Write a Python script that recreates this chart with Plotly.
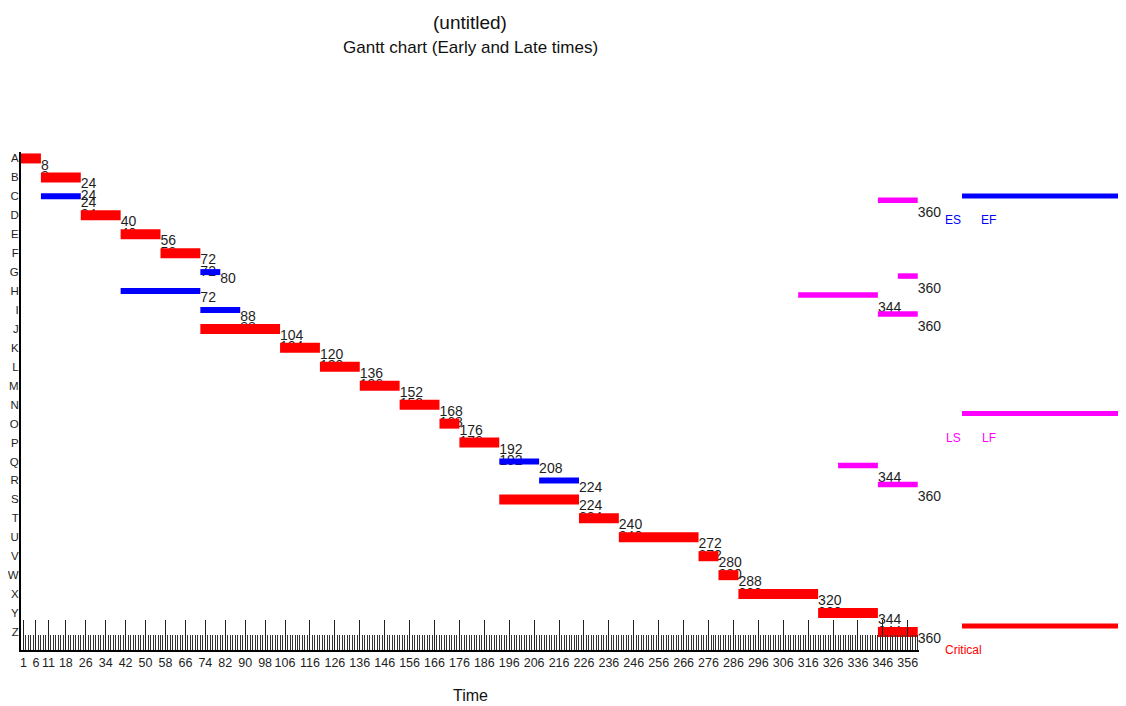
import plotly.graph_objects as go

# ---------------- data ----------------
ROWS = list("ABCDEFGHIJKLMNOPQRSTUVWXYZ")
ES = [0, 8, 8, 24, 40, 56, 72, 40, 72, 72, 104, 120, 136, 152, 168, 176,
      192, 208, 192, 224, 240, 272, 280, 288, 320, 344]
EF = [8, 24, 24, 40, 56, 72, 80, 72, 88, 104, 120, 136, 152, 168, 176, 192,
      208, 224, 224, 240, 272, 280, 288, 320, 344, 360]
CRITICAL = [1, 1, 0, 1, 1, 1, 0, 0, 0, 1, 1, 1, 1, 1, 1, 1,
            0, 0, 1, 1, 1, 1, 1, 1, 1, 1]
# late start / late finish of the non-critical activities
LATE_ROWS = ["C", "G", "H", "I", "Q", "R"]
LS = [344, 352, 312, 344, 328, 344]
LF = [360, 360, 344, 360, 344, 360]
# rows where the previous activity's finish time is repeated at the row centre
CARRY_ROWS = [1, 2, 3, 4, 5, 6, 9, 10, 11, 12, 13, 14, 15, 16,
              19, 20, 21, 22, 23, 24, 25, 26]
TICKS = [1, 6, 11, 18, 26, 34, 42, 50, 58, 66, 74, 82, 90, 98, 106, 116, 126,
         136, 146, 156, 166, 176, 186, 196, 206, 216, 226, 236, 246, 256, 266,
         276, 286, 296, 306, 316, 326, 336, 346, 356]

FONT = "Liberation Sans, Arial, sans-serif"
TXT = "#1e1e1e"
RED, BLUE, MAG = "#ff0000", "#0000ff", "#ff00ff"
YRANGE = [25.95, -0.34]

row_idx = {r: i for i, r in enumerate(ROWS)}

fig = go.Figure()

# ---- text labels (base subplot, drawn below the bars) ----
lab_font = dict(family=FONT, size=14, color=TXT)
fig.add_trace(go.Scatter(
    x=EF, y=[i + 0.40 for i in range(len(ROWS))],
    text=[str(v) for v in EF], mode="text", textposition="middle right",
    textfont=lab_font, cliponaxis=False, hoverinfo="skip", showlegend=False))

fig.add_trace(go.Scatter(
    x=[EF[i - 1] for i in CARRY_ROWS], y=CARRY_ROWS,
    text=[str(EF[i - 1]) for i in CARRY_ROWS], mode="text",
    textposition="middle right",
    textfont=lab_font, cliponaxis=False, hoverinfo="skip", showlegend=False))

fig.add_trace(go.Scatter(
    x=LF, y=[row_idx[r] + 0.92 for r in LATE_ROWS],
    text=[str(v) for v in LF], mode="text", textposition="middle right",
    textfont=lab_font, cliponaxis=False, hoverinfo="skip", showlegend=False))


# ---- bars as thick line segments (overlay subplot, drawn on top) ----
def segs(starts, ends, ys):
    xs, yy = [], []
    for s, e, y in zip(starts, ends, ys):
        xs += [s, e, None]
        yy += [y, y, None]
    return xs, yy


crit = [i for i in range(len(ROWS)) if CRITICAL[i]]
nonc = [i for i in range(len(ROWS)) if not CRITICAL[i]]

x, y = segs([ES[i] for i in crit], [EF[i] for i in crit], crit)
fig.add_trace(go.Scatter(x=x, y=y, yaxis="y2", mode="lines",
                         line=dict(color=RED, width=10),
                         hoverinfo="skip", showlegend=False))
x, y = segs([ES[i] for i in nonc], [EF[i] for i in nonc], nonc)
fig.add_trace(go.Scatter(x=x, y=y, yaxis="y2", mode="lines",
                         line=dict(color=BLUE, width=6),
                         hoverinfo="skip", showlegend=False))
x, y = segs(LS, LF, [row_idx[r] + 0.21 for r in LATE_ROWS])
fig.add_trace(go.Scatter(x=x, y=y, yaxis="y2", mode="lines",
                         line=dict(color=MAG, width=5.5),
                         hoverinfo="skip", showlegend=False))

# ---- axes ----
fig.update_layout(
    xaxis=dict(
        range=[0, 360.5], tickmode="array", tickvals=TICKS,
        ticktext=[str(t) for t in TICKS], ticks="inside", ticklen=30, tickwidth=1,
        tickcolor="#222", showline=True, linecolor="#000", linewidth=2,
        showgrid=False, zeroline=False, tickangle=0, automargin=False,
        tickfont=dict(family=FONT, size=12.5, color=TXT),
        minor=dict(ticks="inside", ticklen=15, tickwidth=1, tickcolor="#333",
                   tickmode="linear", tick0=0, dtick=1, showgrid=False),
    ),
    yaxis=dict(
        range=YRANGE, tickmode="array", tickvals=list(range(len(ROWS))),
        ticktext=ROWS, ticks="", showline=True, linecolor="#000", linewidth=2,
        showgrid=False, zeroline=False, automargin=False, ticklabelstandoff=-2,
        tickfont=dict(family=FONT, size=11.5, color=TXT),
    ),
    yaxis2=dict(range=YRANGE, overlaying="y", visible=False, showgrid=False,
                zeroline=False, automargin=False),
)

# ---- titles ----
ann = [
    dict(text="(untitled)", x=0.5, y=1.261, size=19, color="#111"),
    dict(text="Gantt chart (Early and Late times)", x=0.5, y=1.209, size=17, color="#111"),
    dict(text="Time", x=0.5, y=-0.092, size=16, color="#111"),
    dict(text="ES", x=1.0384, y=0.8635, size=12, color=BLUE),
    dict(text="EF", x=1.0774, y=0.8635, size=12, color=BLUE),
    dict(text="LS", x=1.0384, y=0.4257, size=12, color=MAG),
    dict(text="LF", x=1.0774, y=0.4257, size=12, color=MAG),
    dict(text="Critical", x=1.0500, y=0.0, size=12, color=RED),
]
for a in ann:
    fig.add_annotation(text=a["text"], x=a["x"], y=a["y"], xref="paper", yref="paper",
                       showarrow=False, xanchor="center", yanchor="middle",
                       font=dict(family=FONT, size=a["size"], color=a["color"]))

# ---- legend lines ----
for yy, col in [(0.9116, BLUE), (0.4749, MAG), (0.0482, RED)]:
    fig.add_shape(type="line", xref="paper", yref="paper", x0=1.0479, x1=1.232,
                  y0=yy, y1=yy, line=dict(color=col, width=5))

# the page body adds an 8 px offset, so the figure is 8 px smaller
fig.update_layout(
    width=1118, height=698,
    margin=dict(l=13, r=207, t=144, b=56),
    paper_bgcolor="white", plot_bgcolor="white",
    showlegend=False,
)

fig.write_html("out.html")
